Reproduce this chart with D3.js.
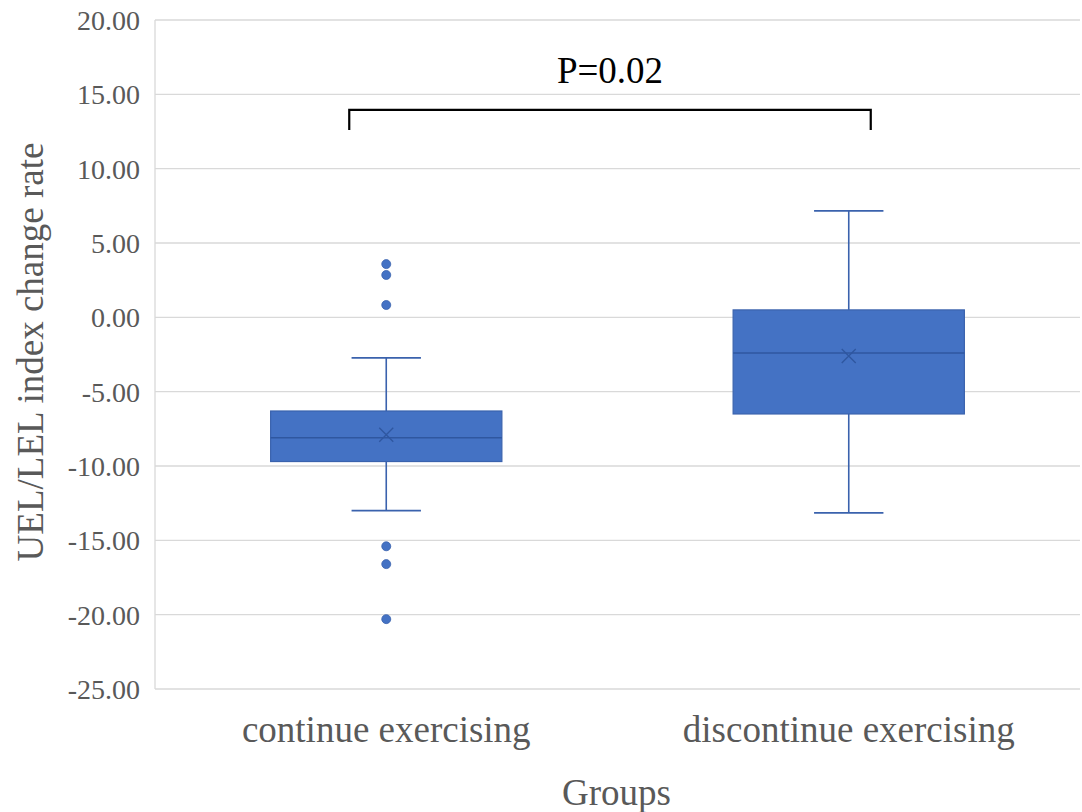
<!DOCTYPE html>
<html>
<head>
<meta charset="utf-8">
<script src="https://cdn.jsdelivr.net/npm/d3@7"></script>
<style>
  body { margin: 0; background: #fff; }
  text { font-family: "Liberation Serif", "Times New Roman", serif; }
</style>
</head>
<body>
<div id="chart-area"></div>
<script>
// data
var groups = ["continue exercising", "discontinue exercising"];
var whiskerHigh = [-2.73, 7.16];
var q3 = [-6.3, 0.5];
var median = [-8.1, -2.4];
var mean = [-7.9, -2.6];
var q1 = [-9.7, -6.5];
var whiskerLow = [-13.0, -13.15];
var outliers = [
  [3.58, 2.85, 0.83, -15.4, -16.6, -20.3],
  []
];
var yTicks = [20, 15, 10, 5, 0, -5, -10, -15, -20, -25];
var pLabel = "P=0.02";

var width = 1082, height = 812;
var margin = {top: 20, right: 2, bottom: 123, left: 155};
var w = width - margin.left - margin.right;
var h = height - margin.top - margin.bottom;

var svg = d3.select("#chart-area").append("svg")
    .attr("width", width)
    .attr("height", height);

var g = svg.append("g")
    .attr("transform", "translate(" + margin.left + "," + margin.top + ")");

var x = d3.scaleBand().domain(groups).range([0, w]);
var y = d3.scaleLinear().domain([-25, 20]).range([h, 0]);

var boxFill = "#4472C4";
var boxLine = "#3A62AD";

// gridlines
g.selectAll(".grid").data(yTicks).enter().append("line")
    .attr("x1", 0).attr("x2", w)
    .attr("y1", d => y(d)).attr("y2", d => y(d))
    .attr("stroke", "#d9d9d9").attr("stroke-width", 1.3);

g.append("line")
    .attr("x1", 0).attr("x2", 0).attr("y1", 0).attr("y2", h)
    .attr("stroke", "#d9d9d9").attr("stroke-width", 1.3);

// y axis labels
var yAxis = d3.axisLeft(y).tickValues(yTicks)
    .tickFormat(d => d.toFixed(2))
    .tickSize(0).tickPadding(15);
var ya = g.append("g").call(yAxis);
ya.select(".domain").remove();
ya.attr("font-family", null);
ya.selectAll("text")
    .attr("font-size", "28px")
    .attr("dy", "0.34em")
    .attr("fill", "#595959");

// x axis labels
var xAxis = d3.axisBottom(x).tickSize(0).tickPadding(27);
var xa = g.append("g").attr("transform", "translate(0," + h + ")").call(xAxis);
xa.select(".domain").remove();
xa.attr("font-family", null);
xa.selectAll("text")
    .attr("font-size", "37px")
    .attr("fill", "#595959");

// axis titles
svg.append("text")
    .attr("x", margin.left + w / 2 - 1)
    .attr("y", 805)
    .attr("text-anchor", "middle")
    .attr("font-size", "37px")
    .attr("fill", "#595959")
    .text("Groups");

svg.append("text")
    .attr("transform", "translate(43,352) rotate(-90)")
    .attr("text-anchor", "middle")
    .attr("font-size", "37px")
    .attr("fill", "#595959")
    .text("UEL/LEL index change rate");

// boxes
var boxW = x.bandwidth() * 0.5;
var capW = x.bandwidth() * 0.15;

groups.forEach(function(grp, i) {
  var cx = x(grp) + x.bandwidth() / 2;
  var bg = g.append("g");

  bg.append("line")
      .attr("x1", cx).attr("x2", cx)
      .attr("y1", y(whiskerHigh[i])).attr("y2", y(q3[i]))
      .attr("stroke", boxLine).attr("stroke-width", 1.6);
  bg.append("line")
      .attr("x1", cx).attr("x2", cx)
      .attr("y1", y(q1[i])).attr("y2", y(whiskerLow[i]))
      .attr("stroke", boxLine).attr("stroke-width", 1.6);
  [whiskerHigh[i], whiskerLow[i]].forEach(function(v) {
    bg.append("line")
        .attr("x1", cx - capW / 2).attr("x2", cx + capW / 2)
        .attr("y1", y(v)).attr("y2", y(v))
        .attr("stroke", boxLine).attr("stroke-width", 1.6);
  });

  bg.append("rect")
      .attr("x", cx - boxW / 2)
      .attr("y", y(q3[i]))
      .attr("width", boxW)
      .attr("height", y(q1[i]) - y(q3[i]))
      .attr("fill", boxFill)
      .attr("stroke", boxLine).attr("stroke-width", 1.2);

  bg.append("line")
      .attr("x1", cx - boxW / 2).attr("x2", cx + boxW / 2)
      .attr("y1", y(median[i])).attr("y2", y(median[i]))
      .attr("stroke", "#2F57A0").attr("stroke-width", 1.4);

  var m = 7;
  bg.append("path")
      .attr("d", "M" + (cx - m) + "," + (y(mean[i]) - m) + "L" + (cx + m) + "," + (y(mean[i]) + m) +
                 "M" + (cx + m) + "," + (y(mean[i]) - m) + "L" + (cx - m) + "," + (y(mean[i]) + m))
      .attr("stroke", "#2F57A0").attr("stroke-width", 1.4).attr("fill", "none");

  bg.selectAll("circle").data(outliers[i]).enter().append("circle")
      .attr("cx", cx)
      .attr("cy", d => y(d))
      .attr("r", 4.5)
      .attr("fill", boxFill)
      .attr("stroke", boxLine).attr("stroke-width", 0.8);
});

// significance bracket
var bx1 = x(groups[0]) + x.bandwidth() / 2 - 37;
var bx2 = x(groups[1]) + x.bandwidth() / 2 + 22;
var bTop = y(13.95), bBot = y(12.6);
g.append("path")
    .attr("d", "M" + bx1 + "," + bBot + "L" + bx1 + "," + bTop + "L" + bx2 + "," + bTop + "L" + bx2 + "," + bBot)
    .attr("fill", "none").attr("stroke", "#000").attr("stroke-width", 2.2);

g.append("text")
    .attr("x", (bx1 + bx2) / 2)
    .attr("y", y(15.76))
    .attr("text-anchor", "middle")
    .attr("font-size", "37px")
    .attr("fill", "#000")
    .text(pLabel);
</script>
</body>
</html>
